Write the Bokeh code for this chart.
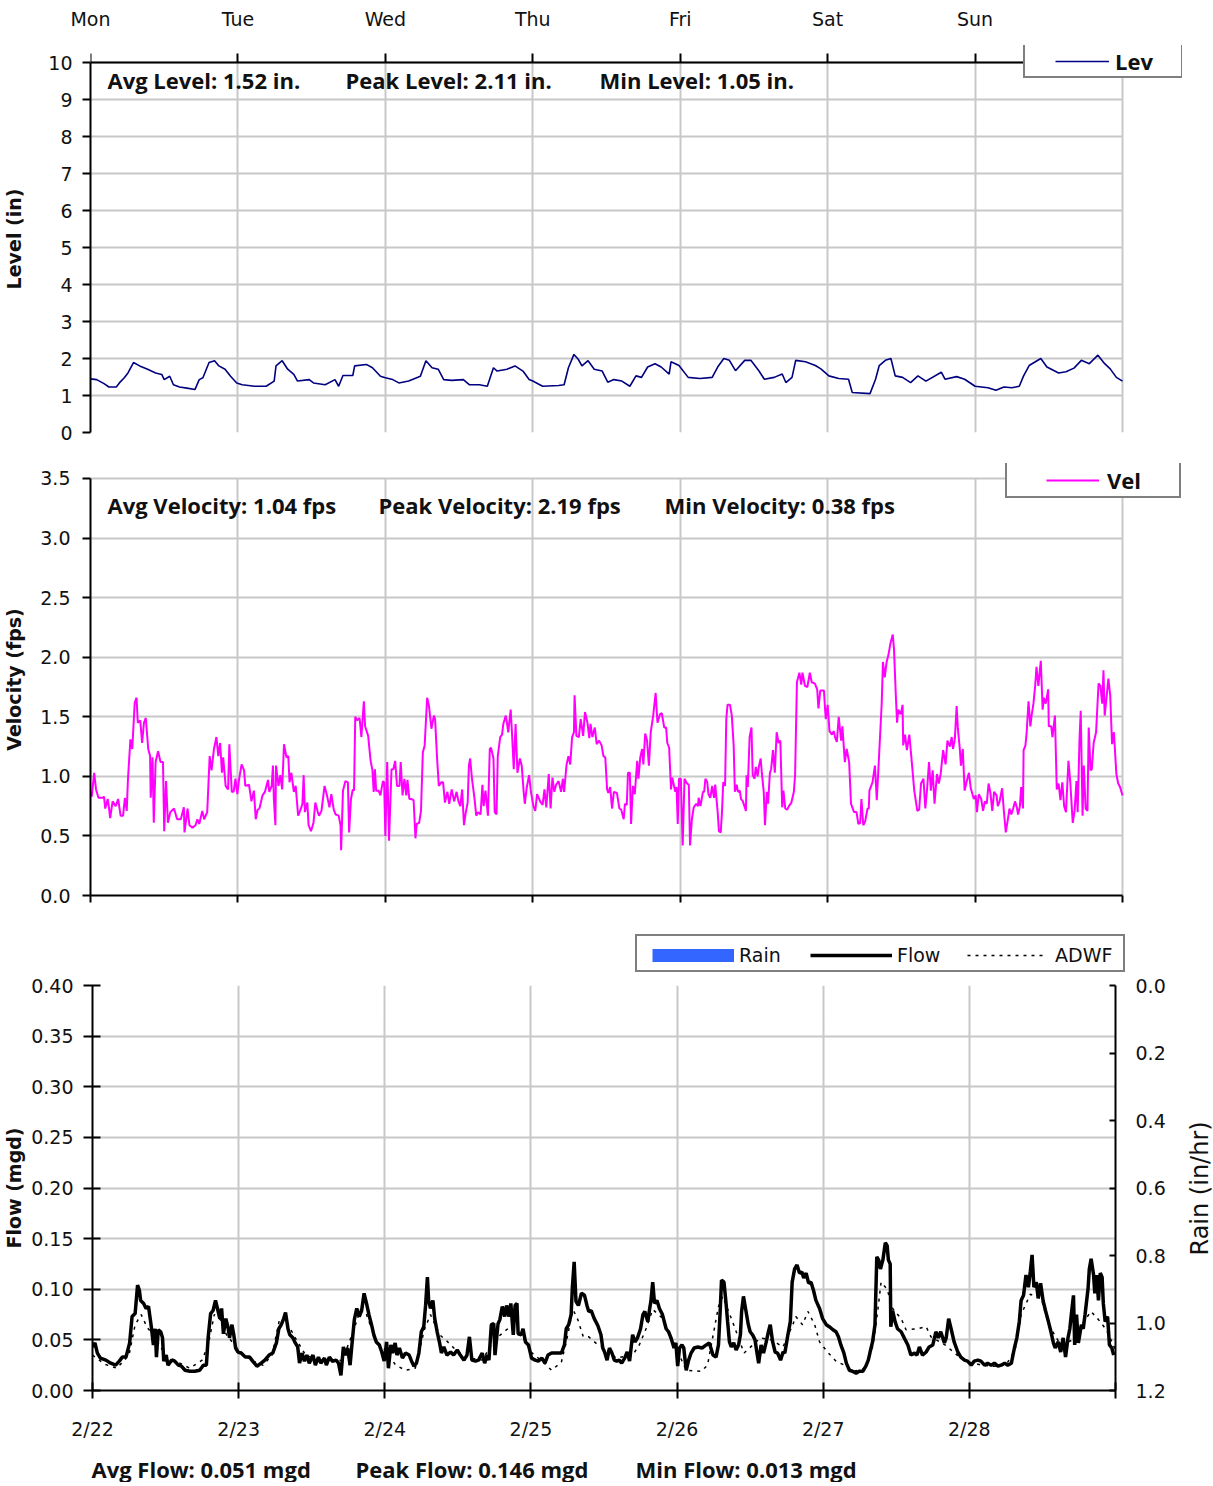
import math
from bokeh.plotting import figure
from bokeh.layouts import column, row
from bokeh.models import (Range1d, LinearAxis, FixedTicker, Label, Legend, LegendItem,
                          NumeralTickFormatter)
from bokeh.embed import file_html
from bokeh.resources import INLINE

TICK_FONT = "DejaVu Sans"
STAT_FONT = "Open Sans"
GRID = "#c8c8c8"
TXT = "#111111"
NAN = float("nan")

# ---------------- data ----------------
day_names = ["Mon", "Tue", "Wed", "Thu", "Fri", "Sat", "Sun", ""]
date_labels = ["2/22", "2/23", "2/24", "2/25", "2/26", "2/27", "2/28", ""]
day_hours = [0, 24, 48, 72, 96, 120, 144, 168]

level_ticks = [0, 1, 2, 3, 4, 5, 6, 7, 8, 9, 10]
vel_ticks = [0.0, 0.5, 1.0, 1.5, 2.0, 2.5, 3.0, 3.5]
flow_ticks = [0.0, 0.05, 0.10, 0.15, 0.20, 0.25, 0.30, 0.35, 0.40]
rain_ticks = [0.0, 0.2, 0.4, 0.6, 0.8, 1.0, 1.2]

lev_h = [0, 1, 2.2, 3, 4.2, 4.7, 5.5, 6.1, 7, 8, 9.3, 10.6, 11.6, 12, 12.9, 13.5, 14.5, 15.7, 17, 17.7,
         18.3, 19.3, 20.2, 20.9, 21.9, 22.8, 23.8, 24.7, 26.7, 28.6, 29.9, 30.2, 31.2, 32.1, 33.1, 33.7,
         35.6, 36.3, 38.2, 39.8, 40.4, 41.1, 42.7, 43, 44.9, 45.9, 47.2, 48, 49.2, 50.2, 51.8, 53.7, 54.6,
         55.6, 56.6, 57.5, 58.8, 60.7, 61.7, 63.3, 64.6, 65.6, 66.2, 67.8, 69.1, 70.4, 71.4, 72, 73.6,
         76.2, 77.1, 77.8, 78.7, 79.4, 80, 81, 82, 83.3, 84.2, 85.2, 86.5, 87.8, 88.8, 89.7, 90.7, 91.9,
         92.9, 94.2, 94.5, 95.8, 97.3, 99.2, 101.2, 102.1, 103.1, 104, 105, 106.5, 107.5, 108.8, 109.7,
         111.3, 112.6, 113.2, 114.2, 114.8, 116.4, 118, 118.9, 120.2, 121.8, 123.4, 124, 126.9, 127.8,
         128.4, 129.4, 130.3, 131, 132.2, 133.5, 134.7, 136, 138.5, 139.1, 141, 142.3, 144, 146.1, 147.4,
         148.7, 150, 151.2, 151.9, 152.8, 154.7, 155.7, 157.6, 158.8, 160.1, 161.3, 162.6, 164, 165.1,
         166, 167, 168]
lev_v = [1.45, 1.43, 1.32, 1.23, 1.23, 1.34, 1.48, 1.61, 1.89, 1.80, 1.71, 1.61, 1.57, 1.43, 1.52, 1.29,
         1.23, 1.20, 1.16, 1.43, 1.48, 1.89, 1.94, 1.80, 1.71, 1.52, 1.34, 1.29, 1.25, 1.25, 1.39, 1.80,
         1.94, 1.71, 1.57, 1.39, 1.43, 1.34, 1.29, 1.43, 1.25, 1.54, 1.54, 1.80, 1.84, 1.75, 1.52, 1.48,
         1.43, 1.34, 1.39, 1.52, 1.94, 1.75, 1.71, 1.43, 1.41, 1.43, 1.29, 1.29, 1.25, 1.75, 1.66, 1.71,
         1.80, 1.66, 1.43, 1.39, 1.25, 1.27, 1.29, 1.75, 2.11, 1.98, 1.80, 1.94, 1.71, 1.66, 1.36, 1.43,
         1.39, 1.25, 1.53, 1.49, 1.77, 1.86, 1.77, 1.58, 1.91, 1.81, 1.49, 1.46, 1.49, 1.77, 2.00, 1.95,
         1.67, 1.95, 1.95, 1.67, 1.44, 1.49, 1.58, 1.35, 1.49, 1.95, 1.91, 1.81, 1.72, 1.53, 1.46, 1.44,
         1.08, 1.05, 1.44, 1.81, 1.95, 2.00, 1.53, 1.49, 1.35, 1.53, 1.39, 1.63, 1.44, 1.51, 1.44, 1.25,
         1.21, 1.14, 1.23, 1.21, 1.25, 1.53, 1.81, 2.00, 1.77, 1.61, 1.64, 1.74, 1.95, 1.86, 2.09, 1.86,
         1.72, 1.49, 1.39]

vel_h = [0, 0.2, 0.6, 0.9, 1.3, 2.0, 2.2, 2.4, 2.8, 3.0, 3.2, 3.6, 4.1, 4.5, 4.9, 5.3, 5.6, 5.9, 6.1, 6.5,
         6.8, 7.2, 7.5, 7.7, 8.1, 8.4, 8.7, 9.0, 9.4, 9.7, 9.8, 10.1, 10.3, 10.6, 11.0, 11.4, 11.8, 12.0,
         12.3, 12.6, 13.0, 13.6, 14.1, 14.7, 15.2, 15.3, 15.8, 16.1, 16.6, 17.1, 17.4, 17.7, 18.2, 18.5,
         19.0, 19.4, 19.7, 20.1, 20.5, 20.8, 21.1, 21.4, 21.6, 22.0, 22.4, 22.6, 23.0, 23.3, 23.6, 23.9,
         24.2, 24.6, 25.0, 25.2, 25.8, 26.2, 26.6, 26.9, 27.2, 27.5, 28.0, 28.4, 28.9, 29.1, 29.5, 29.7,
         29.85, 30.1, 30.2, 30.6, 30.9, 31.2, 31.5, 31.9, 32.2, 32.4, 32.7, 33.1, 33.4, 33.8, 34.2, 34.5,
         34.7, 34.9, 35.3, 35.5, 35.9, 36.3, 36.6, 37.0, 37.2, 37.6, 38.1, 38.5, 38.9, 39.2, 39.6, 39.9,
         40.4, 40.7, 40.8, 41.1, 41.5, 41.9, 42.1, 42.4, 42.7, 42.9, 43.1, 43.4, 43.8, 44.1, 44.5, 44.7,
         45.2, 45.6, 45.9, 46.1, 46.3, 46.5, 46.9, 47.2, 47.6, 47.8, 48.0, 48.3, 48.6, 49.0, 49.3, 49.6,
         49.9, 50.3, 50.5, 50.8, 51.1, 51.4, 51.6, 51.9, 52.2, 52.6, 52.9, 53.1, 53.5, 53.8, 54.1, 54.4,
         54.8, 55.1, 55.5, 55.9, 56.1, 56.4, 56.7, 57.1, 57.4, 57.7, 58.1, 58.4, 58.8, 59.2, 59.6, 59.9,
         60.2, 60.5, 60.8, 61.1, 61.4, 61.6, 61.8, 62.1, 62.5, 62.8, 63.1, 63.5, 63.8, 64.0, 64.3, 64.7,
         65.0, 65.2, 65.6, 65.8, 66.1, 66.3, 66.7, 67.0, 67.2, 67.6, 67.8, 68.0, 68.4, 68.6, 68.9, 69.2,
         69.5, 69.9, 70.2, 70.5, 70.7, 71.0, 71.4, 71.7, 72.1, 72.4, 72.7, 73.2, 73.6, 73.9, 74.2, 74.6,
         74.9, 75.2, 75.5, 75.8, 76.2, 76.6, 76.9, 77.1, 77.5, 77.8, 78.1, 78.4, 78.7, 78.8, 79.1, 79.5,
         79.8, 80.2, 80.5, 80.9, 81.2, 81.4, 81.7, 82.1, 82.4, 82.8, 83.2, 83.5, 83.8, 84.1, 84.3, 84.6,
         84.9, 85.2, 85.7, 86.1, 86.4, 86.8, 87.0, 87.3, 87.5, 87.8, 88.0, 88.3, 88.6, 89.0, 89.2, 89.5,
         89.8, 90.0, 90.3, 90.6, 90.9, 91.2, 91.6, 92.0, 92.3, 92.7, 93.0, 93.4, 93.7, 93.9, 94.2, 94.5,
         94.7, 95.2, 95.4, 95.6, 95.8, 96.1, 96.4, 96.7, 97.1, 97.4, 97.6, 97.9, 98.2, 98.6, 98.9, 99.0,
         99.3, 99.7, 99.9, 100.1, 100.4, 100.6, 100.9, 101.2, 101.5, 101.7, 102.1, 102.3, 102.6, 102.8,
         103.0, 103.3, 103.5, 103.7, 104.1, 104.4, 104.7, 104.9, 105.2, 105.4, 105.7, 105.9, 106.2, 106.7,
         106.8, 107.0, 107.3, 107.6, 107.8, 108.1, 108.3, 108.6, 108.8, 109.1, 109.3, 109.6, 109.8, 110.1,
         110.3, 110.6, 110.8, 111.1, 111.4, 111.7, 112.0, 112.3, 112.6, 112.8, 113.1, 113.4, 113.7, 114.1,
         114.5, 114.7, 115.0, 115.4, 115.7, 115.9, 116.3, 116.7, 117.1, 117.4, 117.9, 118.3, 118.5, 118.8,
         119.4, 119.6, 119.7, 120.0, 120.3, 120.7, 121.0, 121.2, 121.5, 121.8, 122.2, 122.4, 122.8, 123.1,
         123.5, 123.8, 124.3, 124.7, 125.0, 125.3, 125.5, 125.8, 126.1, 126.5, 126.7, 126.8, 127.3, 127.7,
         128.0, 128.4, 128.8, 129.0, 129.3, 129.6, 129.9, 130.2, 130.6, 130.8, 131.1, 131.3, 131.5, 131.9,
         132.2, 132.3, 132.6, 132.9, 133.3, 133.7, 134.1, 134.6, 134.9, 135.2, 135.6, 135.9, 136.2, 136.5,
         136.8, 137.1, 137.4, 137.8, 138.1, 138.4, 138.8, 139.2, 139.5, 139.9, 140.2, 140.4, 140.7, 141.0,
         141.2, 141.5, 141.7, 142.0, 142.3, 142.6, 143.0, 143.3, 143.8, 144.1, 144.3, 144.6, 145.0, 145.3,
         145.6, 145.9, 146.2, 146.5, 146.8, 147.1, 147.5, 147.7, 148.0, 148.4, 148.7, 149.0, 149.4, 149.6,
         149.9, 150.2, 150.5, 150.8, 151.0, 151.3, 151.5, 151.8, 151.9, 152.2, 152.4, 152.7, 153.0, 153.2,
         153.5, 153.8, 154.0, 154.3, 154.7, 155.0, 155.2, 155.5, 155.9, 156.0, 156.4, 156.6, 157.0, 157.3,
         157.6, 157.9, 158.2, 158.5, 158.8, 159.2, 159.5, 159.9, 160.2, 160.5, 160.7, 161.0, 161.2, 161.5,
         161.7, 162.0, 162.3, 162.5, 162.8, 163.0, 163.3, 163.7, 164.1, 164.4, 164.7, 164.9, 165.1, 165.4,
         165.7, 166.0, 166.3, 166.6, 167.0, 167.3, 167.6, 168.0]
vel_v = [0.87, 0.83, 1.03, 0.89, 0.82, 0.82, 0.83, 0.73, 0.81, 0.74, 0.65, 0.79, 0.75, 0.81, 0.67, 0.67,
         0.82, 0.71, 0.98, 1.31, 1.23, 1.62, 1.66, 1.45, 1.47, 1.28, 1.45, 1.49, 1.23, 1.17, 0.82, 1.16,
         0.61, 1.12, 1.21, 1.12, 1.12, 0.54, 0.96, 0.61, 0.70, 0.73, 0.64, 0.64, 0.74, 0.53, 0.73, 0.59,
         0.57, 0.59, 0.64, 0.60, 0.71, 0.64, 0.70, 1.17, 1.05, 1.23, 1.33, 1.17, 1.28, 1.03, 1.16, 0.92,
         0.89, 1.27, 0.87, 0.87, 0.98, 0.85, 0.98, 1.10, 1.05, 0.92, 0.93, 0.79, 0.88, 0.64, 0.72, 0.73,
         0.84, 0.87, 0.97, 0.87, 0.92, 1.09, 0.81, 0.59, 1.09, 0.92, 1.01, 0.89, 1.27, 1.16, 1.17, 0.95,
         1.03, 0.87, 0.92, 0.67, 0.72, 0.77, 1.01, 0.70, 0.78, 0.59, 0.54, 0.61, 0.78, 0.70, 0.67, 0.71,
         0.92, 0.84, 0.74, 0.85, 0.72, 0.68, 0.67, 0.59, 0.38, 0.88, 0.96, 0.95, 0.53, 0.81, 0.89, 0.88,
         1.50, 1.47, 1.49, 1.33, 1.63, 1.42, 1.34, 1.13, 1.05, 0.87, 1.06, 0.88, 0.88, 0.84, 0.96, 0.95,
         0.50, 1.12, 0.46, 1.06, 1.06, 1.13, 0.92, 0.92, 1.12, 0.84, 0.98, 0.84, 0.97, 0.81, 0.81, 0.80,
         0.48, 0.60, 0.61, 0.71, 1.20, 1.26, 1.66, 1.59, 1.40, 1.51, 1.48, 1.17, 0.92, 0.95, 0.95, 0.78,
         0.87, 0.77, 0.89, 0.79, 0.87, 0.79, 0.75, 0.89, 0.59, 0.70, 0.78, 1.09, 1.15, 0.98, 0.82, 0.67,
         0.70, 0.68, 0.93, 0.75, 0.88, 0.67, 1.23, 1.24, 1.15, 0.70, 0.68, 1.17, 1.33, 1.35, 1.44, 1.51,
         1.45, 1.37, 1.56, 1.38, 1.06, 1.44, 1.03, 1.15, 1.09, 0.88, 0.77, 0.90, 1.01, 0.87, 0.75, 0.71,
         0.85, 0.79, 0.76, 0.89, 0.74, 1.02, 0.73, 0.99, 0.87, 0.93, 0.96, 0.87, 0.98, 0.87, 1.10, 1.17,
         1.10, 1.33, 1.37, 1.68, 1.34, 1.33, 1.48, 1.34, 1.54, 1.45, 1.32, 1.44, 1.33, 1.41, 1.27, 1.30,
         1.26, 1.17, 1.16, 0.89, 0.86, 0.91, 0.73, 0.87, 0.86, 0.73, 0.72, 0.64, 0.77, 0.76, 1.03, 1.03,
         0.60, 0.92, 0.85, 1.13, 0.98, 1.16, 1.23, 1.10, 1.36, 1.30, 1.09, 1.37, 1.51, 1.70, 1.45, 1.52,
         1.53, 1.41, 1.41, 1.28, 1.24, 0.89, 0.99, 0.87, 0.91, 0.60, 0.98, 0.98, 0.42, 0.98, 0.94, 0.93,
         0.42, 0.64, 0.74, 0.77, 0.75, 0.82, 0.75, 0.87, 0.87, 0.98, 0.95, 0.85, 0.82, 0.92, 0.82, 0.93,
         0.70, 0.54, 0.53, 0.70, 0.95, 0.92, 1.48, 1.60, 1.60, 1.51, 1.26, 0.87, 0.93, 0.87, 0.88, 0.81,
         0.79, 0.71, 1.01, 0.91, 1.33, 1.41, 1.01, 0.98, 1.08, 1.00, 1.08, 1.15, 1.02, 0.87, 0.59, 0.87,
         0.77, 1.03, 1.06, 1.22, 1.03, 1.37, 1.28, 1.30, 0.74, 0.88, 0.73, 0.72, 0.75, 0.78, 0.87, 1.01,
         1.79, 1.87, 1.77, 1.87, 1.76, 1.75, 1.87, 1.79, 1.78, 1.73, 1.57, 1.72, 1.72, 1.55, 1.48, 1.60,
         1.38, 1.35, 1.38, 1.33, 1.29, 1.50, 1.30, 1.42, 1.12, 1.23, 1.12, 0.77, 0.70, 0.70, 0.60, 0.61,
         0.81, 0.59, 0.62, 0.73, 0.73, 0.88, 0.95, 1.09, 0.80, 1.20, 1.61, 1.96, 1.83, 1.96, 2.02, 2.11,
         2.19, 2.07, 1.68, 1.45, 1.56, 1.52, 1.60, 1.26, 1.35, 1.22, 1.35, 1.12, 0.88, 0.71, 0.72, 0.94,
         0.98, 0.73, 0.90, 1.12, 0.88, 1.05, 0.77, 1.02, 0.94, 1.02, 1.22, 1.10, 1.30, 1.25, 1.33, 1.23,
         1.31, 1.59, 1.40, 1.24, 1.09, 1.23, 0.88, 0.95, 1.03, 0.90, 0.81, 0.84, 0.70, 0.85, 0.81, 0.71,
         0.79, 0.77, 0.94, 0.86, 0.71, 0.87, 0.84, 0.75, 0.79, 0.90, 0.70, 0.53, 0.66, 0.73, 0.68, 0.73,
         0.79, 0.74, 0.68, 0.75, 0.91, 0.73, 1.22, 1.26, 1.37, 1.63, 1.42, 1.51, 1.61, 1.77, 1.92, 1.76,
         1.97, 1.56, 1.66, 1.61, 1.73, 1.42, 1.42, 1.33, 1.51, 0.89, 0.94, 0.80, 0.95, 0.75, 0.70, 1.13,
         0.95, 0.61, 0.71, 0.96, 0.70, 1.31, 1.55, 0.67, 1.09, 0.73, 0.71, 1.41, 1.05, 1.06, 1.28, 1.37,
         1.78, 1.76, 1.61, 1.89, 1.51, 1.66, 1.82, 1.68, 1.27, 1.37, 1.02, 0.94, 0.91, 0.84]

flow_h = [0.0, 0.4, 0.8, 1.3, 2.2, 3.0, 3.8, 4.4, 4.9, 5.5, 6.1, 6.5, 7.0, 7.4, 7.7, 7.9, 8.4, 8.8, 9.2,
          9.5, 9.7, 10.0, 10.3, 10.5, 10.8, 11.2, 11.5, 11.7, 12.1, 12.4, 13.0, 13.5, 14.1, 14.6, 15.2,
          16.0, 16.8, 17.6, 18.2, 18.7, 19.0, 19.4, 19.8, 20.2, 20.6, 20.9, 21.2, 21.5, 21.9, 22.3, 22.5,
          22.9, 23.2, 23.5, 23.9, 24.4, 25.1, 25.8, 26.3, 27.0, 27.7, 28.3, 29.0, 29.6, 30.2, 30.6, 31.0,
          31.4, 31.7, 32.1, 32.4, 32.9, 33.3, 33.7, 34.0, 34.4, 34.8, 35.2, 35.6, 36.2, 36.6, 37.1, 37.5,
          38.1, 38.4, 38.9, 39.4, 40.0, 40.4, 40.8, 41.2, 41.5, 41.9, 42.3, 42.6, 43.0, 43.4, 43.8, 44.2,
          44.6, 45.0, 45.4, 45.9, 46.2, 46.6, 47.1, 47.5, 47.9, 48.3, 48.6, 49.0, 49.3, 49.7, 50.0, 50.4,
          50.9, 51.4, 52.0, 52.4, 52.8, 53.2, 53.6, 54.0, 54.4, 54.7, 55.0, 55.2, 55.5, 55.9, 56.2, 56.6,
          57.0, 57.3, 57.7, 58.2, 58.8, 59.3, 59.9, 60.4, 61.0, 61.5, 61.9, 62.3, 62.9, 63.4, 64.0, 64.4,
          64.8, 65.1, 65.5, 65.9, 66.1, 66.6, 66.9, 67.3, 67.7, 68.0, 68.4, 68.7, 69.1, 69.4, 69.7, 69.9,
          70.4, 70.7, 71.1, 71.6, 72.1, 72.7, 73.2, 73.8, 74.3, 74.8, 75.4, 75.9, 76.5, 77.0, 77.5, 77.8,
          78.2, 78.6, 78.8, 79.1, 79.4, 79.8, 80.3, 80.8, 81.2, 81.5, 81.9, 82.4, 83.0, 83.5, 83.8, 84.1,
          84.5, 84.9, 85.3, 85.7, 86.1, 86.5, 86.9, 87.4, 87.8, 88.2, 88.7, 89.1, 89.5, 90.0, 90.4, 90.7,
          91.2, 91.5, 91.7, 92.0, 92.3, 92.7, 93.1, 93.6, 94.2, 94.6, 95.0, 95.5, 95.8, 96.1, 96.4, 96.8,
          97.1, 97.5, 97.9, 98.3, 98.8, 99.4, 100.1, 100.8, 101.3, 101.9, 102.4, 102.8, 103.1, 103.3,
          103.7, 104.0, 104.3, 104.6, 104.9, 105.3, 105.7, 106.1, 106.4, 106.6, 106.9, 107.3, 107.7,
          108.0, 108.4, 108.8, 109.1, 109.4, 109.8, 110.2, 110.6, 111.0, 111.3, 111.7, 112.1, 112.5,
          113.0, 113.4, 113.7, 114.2, 114.6, 114.9, 115.3, 115.7, 116.1, 116.5, 116.8, 117.2, 117.6,
          118.0, 118.4, 118.8, 119.4, 119.9, 120.5, 121.0, 121.6, 122.1, 122.5, 122.9, 123.4, 123.8,
          124.3, 124.8, 125.4, 125.9, 126.5, 127.0, 127.4, 127.7, 128.1, 128.5, 128.8, 129.1, 129.4,
          129.8, 130.2, 130.5, 130.7, 131.0, 131.1, 131.4, 131.8, 132.2, 132.8, 133.3, 133.9, 134.4,
          135.0, 135.4, 135.8, 136.3, 136.9, 137.4, 138.0, 138.5, 138.9, 139.3, 139.9, 140.2, 140.6,
          141.0, 141.5, 142.1, 142.6, 143.2, 143.7, 144.3, 144.8, 145.4, 145.9, 146.5, 147.0, 147.6,
          148.1, 148.7, 149.2, 149.8, 150.3, 150.9, 151.4, 151.8, 152.2, 152.5, 152.9, 153.3, 153.7,
          154.0, 154.3, 154.6, 155.0, 155.3, 155.7, 156.1, 156.5, 156.9, 157.4, 157.8, 158.1, 158.6,
          159.0, 159.4, 159.8, 160.2, 160.5, 160.8, 161.1, 161.3, 161.6, 161.9, 162.4, 162.7, 163.0,
          163.5, 163.7, 164.0, 164.4, 164.6, 164.9, 165.2, 165.5, 165.8, 166.0, 166.3, 166.7, 167.0,
          167.4, 167.7]
flow_v = [0.043, 0.047, 0.037, 0.032, 0.030, 0.027, 0.025, 0.029, 0.033, 0.033, 0.047, 0.073, 0.076,
          0.104, 0.099, 0.089, 0.086, 0.081, 0.083, 0.070, 0.061, 0.045, 0.061, 0.033, 0.060, 0.058,
          0.052, 0.029, 0.035, 0.025, 0.030, 0.029, 0.025, 0.024, 0.020, 0.019, 0.019, 0.020, 0.025,
          0.025, 0.053, 0.076, 0.079, 0.089, 0.079, 0.071, 0.081, 0.056, 0.071, 0.061, 0.052, 0.065,
          0.055, 0.042, 0.038, 0.037, 0.033, 0.033, 0.029, 0.024, 0.027, 0.030, 0.035, 0.037, 0.047,
          0.061, 0.065, 0.071, 0.077, 0.061, 0.055, 0.052, 0.047, 0.043, 0.027, 0.037, 0.029, 0.035,
          0.027, 0.035, 0.025, 0.033, 0.027, 0.032, 0.025, 0.033, 0.029, 0.030, 0.027, 0.015, 0.043,
          0.035, 0.042, 0.025, 0.045, 0.070, 0.081, 0.073, 0.079, 0.096, 0.086, 0.075, 0.063, 0.055,
          0.048, 0.045, 0.038, 0.029, 0.048, 0.022, 0.045, 0.037, 0.047, 0.035, 0.042, 0.032, 0.037,
          0.035, 0.029, 0.024, 0.027, 0.037, 0.058, 0.063, 0.084, 0.112, 0.089, 0.081, 0.089, 0.071,
          0.058, 0.047, 0.037, 0.043, 0.035, 0.038, 0.035, 0.040, 0.035, 0.030, 0.035, 0.053, 0.030,
          0.029, 0.030, 0.037, 0.027, 0.035, 0.030, 0.065, 0.066, 0.035, 0.066, 0.070, 0.083, 0.073,
          0.084, 0.073, 0.086, 0.055, 0.084, 0.086, 0.056, 0.055, 0.061, 0.048, 0.045, 0.032, 0.030,
          0.029, 0.032, 0.027, 0.035, 0.037, 0.037, 0.037, 0.037, 0.045, 0.061, 0.065, 0.075, 0.101,
          0.127, 0.088, 0.084, 0.096, 0.094, 0.084, 0.078, 0.079, 0.071, 0.064, 0.055, 0.042, 0.038,
          0.030, 0.042, 0.037, 0.030, 0.029, 0.030, 0.027, 0.032, 0.038, 0.029, 0.055, 0.048, 0.052,
          0.061, 0.075, 0.078, 0.068, 0.081, 0.088, 0.107, 0.086, 0.089, 0.081, 0.075, 0.061, 0.058,
          0.052, 0.042, 0.047, 0.024, 0.042, 0.045, 0.042, 0.020, 0.030, 0.037, 0.042, 0.043, 0.042,
          0.045, 0.047, 0.035, 0.033, 0.045, 0.081, 0.109, 0.107, 0.089, 0.068, 0.048, 0.043, 0.047,
          0.040, 0.045, 0.055, 0.078, 0.093, 0.079, 0.065, 0.058, 0.055, 0.050, 0.038, 0.027, 0.045,
          0.037, 0.047, 0.058, 0.065, 0.048, 0.038, 0.037, 0.030, 0.038, 0.037, 0.055, 0.068, 0.107,
          0.120, 0.124, 0.116, 0.117, 0.111, 0.116, 0.106, 0.107, 0.099, 0.089, 0.081, 0.071, 0.065,
          0.063, 0.060, 0.058, 0.053, 0.045, 0.037, 0.027, 0.020, 0.019, 0.017, 0.019, 0.019, 0.024,
          0.030, 0.038, 0.048, 0.065, 0.132, 0.129, 0.120, 0.129, 0.146, 0.143, 0.129, 0.125, 0.063,
          0.079, 0.068, 0.061, 0.058, 0.052, 0.045, 0.035, 0.037, 0.035, 0.043, 0.035, 0.038, 0.043,
          0.045, 0.058, 0.052, 0.058, 0.047, 0.052, 0.071, 0.061, 0.048, 0.038, 0.033, 0.030, 0.029,
          0.025, 0.029, 0.030, 0.029, 0.025, 0.027, 0.025, 0.027, 0.024, 0.025, 0.027, 0.025, 0.027,
          0.042, 0.052, 0.068, 0.089, 0.094, 0.114, 0.102, 0.117, 0.134, 0.102, 0.107, 0.091, 0.106,
          0.089, 0.079, 0.070, 0.058, 0.047, 0.042, 0.048, 0.038, 0.052, 0.033, 0.052, 0.061, 0.078,
          0.094, 0.045, 0.075, 0.047, 0.065, 0.061, 0.075, 0.101, 0.120, 0.130, 0.114, 0.096, 0.114,
          0.089, 0.116, 0.112, 0.086, 0.068, 0.073, 0.045, 0.042, 0.035]

adwf_h = [0, 2, 4, 6, 7, 8, 9, 10, 12, 14, 16, 18, 19, 20, 21, 22, 24, 26, 28, 29.5, 30.7, 31.5, 33.3,
          35, 37, 39, 41, 42.7, 44, 45, 46.5, 48, 49.8, 51.4, 53, 54.5, 55.5, 57, 58, 60, 62, 64, 66,
          68.6, 70.5, 72, 74, 75.4, 77, 77.8, 78.9, 79.7, 80.6, 81.5, 83, 84, 86, 88.7, 89.8, 90.9, 92,
          93.5, 95, 96, 97.5, 100, 101, 102.8, 103.5, 105.3, 107, 109.7, 111.5, 113.4, 115, 115.5, 116.6,
          117.5, 118.6, 119.4, 120.7, 122.1, 123.5, 125, 127, 128.2, 129, 129.5, 130.5, 131.4, 132.8,
          133.6, 135.5, 136.9, 137.7, 140, 142, 144, 146, 148, 150, 151.5, 152.5, 154, 155.8, 157, 159,
          161, 163, 164, 165.2, 166.5, 168]
adwf_v = [0.035, 0.026, 0.022, 0.035, 0.065, 0.075, 0.062, 0.055, 0.035, 0.028, 0.022, 0.030, 0.045,
          0.075, 0.070, 0.055, 0.040, 0.030, 0.025, 0.035, 0.070, 0.072, 0.052, 0.035, 0.030, 0.028,
          0.030, 0.056, 0.080, 0.075, 0.050, 0.040, 0.025, 0.020, 0.022, 0.060, 0.075, 0.055, 0.050,
          0.038, 0.032, 0.030, 0.050, 0.063, 0.055, 0.038, 0.028, 0.020, 0.028, 0.048, 0.080, 0.070,
          0.053, 0.053, 0.045, 0.043, 0.032, 0.035, 0.045, 0.061, 0.080, 0.072, 0.050, 0.040, 0.020,
          0.019, 0.025, 0.083, 0.093, 0.065, 0.037, 0.052, 0.050, 0.043, 0.065, 0.073, 0.065, 0.078,
          0.065, 0.048, 0.038, 0.029, 0.025, 0.019, 0.022, 0.045, 0.081, 0.107, 0.100, 0.081, 0.071,
          0.060, 0.061, 0.063, 0.053, 0.045, 0.035, 0.028, 0.025, 0.024, 0.025, 0.040, 0.075, 0.095,
          0.091, 0.065, 0.045, 0.050, 0.070, 0.078, 0.070, 0.060, 0.040]

rain_h = [12, 36, 60, 84, 108, 132, 156]
rain_v = [0.0, 0.0, 0.0, 0.0, 0.0, 0.0, 0.0]

X_END = 168 * 1092 / 1032          # frame widened past the last day for the legends


# ---------------- helpers ----------------
def make_fig(fw, fh, bl, br, bt, bb, xr, yr, xloc, yloc="left"):
    p = figure(frame_width=fw, frame_height=fh, min_border_left=bl, min_border_right=br,
               min_border_top=bt, min_border_bottom=bb, x_range=xr, y_range=yr,
               x_axis_location=xloc, y_axis_location=yloc, output_backend="svg",
               toolbar_location=None)
    p.outline_line_color = None
    p.background_fill_color = "white"
    p.border_fill_color = "white"
    return p


def style_grid(p, xcross=None, ycross=None):
    p.xgrid.ticker = FixedTicker(ticks=day_hours)
    for g in (p.xgrid, p.ygrid):
        g.grid_line_color = GRID
        g.grid_line_width = 2
    if xcross is not None:
        p.xgrid.cross_bounds = xcross
    if ycross is not None:
        p.ygrid.cross_bounds = ycross


def style_axis(ax, tin, tout, standoff, size="19px"):
    ax.axis_line_color = "black"
    ax.axis_line_width = 2
    ax.major_tick_line_color = "black"
    ax.major_tick_line_width = 2
    ax.major_tick_in = tin
    ax.major_tick_out = tout
    ax.minor_tick_line_color = None
    ax.major_label_standoff = standoff
    ax.major_label_text_font = TICK_FONT
    ax.major_label_text_font_size = size
    ax.major_label_text_color = TXT


def axis_title(ax, text, standoff, size="19px", bold=True):
    ax.axis_label = text
    ax.axis_label_text_font = TICK_FONT
    ax.axis_label_text_font_size = size
    ax.axis_label_text_font_style = "bold" if bold else "normal"
    ax.axis_label_text_color = TXT
    ax.axis_label_standoff = standoff


def stat(p, x, y, text, size="22px"):
    p.add_layout(Label(x=x, y=y, x_units="screen", y_units="screen", text=text,
                       text_font=STAT_FONT, text_font_style="bold", text_font_size=size,
                       text_color=TXT, text_baseline="middle", text_align="left"))


def legend_box(p, loc, w, h):
    dummy = p.line(x=[NAN], y=[NAN], line_alpha=0)
    lg = Legend(items=[LegendItem(label=" ", renderers=[dummy])], location=loc, padding=0, margin=0,
                spacing=0, glyph_width=w, glyph_height=h, label_standoff=0, label_width=0,
                label_height=0, label_text_font_size="1px", border_line_color="black",
                border_line_width=2, background_fill_color="white", background_fill_alpha=1)
    p.add_layout(lg)


def legend_item(p, loc, label, rend, gw, standoff, size, bold, font):
    lg = Legend(items=[LegendItem(label=label, renderers=[rend])], location=loc, padding=0, margin=0,
                spacing=0, glyph_width=gw, glyph_height=26, label_standoff=standoff, label_height=26,
                label_text_font=font, label_text_font_size=size,
                label_text_font_style="bold" if bold else "normal", label_text_color=TXT,
                border_line_color=None, background_fill_alpha=0)
    p.add_layout(lg)


def strip_fig(h):
    p = figure(frame_width=1092, frame_height=h, min_border_left=85, min_border_right=20,
               min_border_top=0, min_border_bottom=0, x_range=Range1d(0, 1), y_range=Range1d(0, 1),
               x_axis_location=None, y_axis_location=None, output_backend="svg",
               toolbar_location=None)
    p.outline_line_color = None
    p.grid.visible = False
    return p


hidden = {h: "" for h in day_hours}

# ---------------- level ----------------
p1 = make_fig(1092, 387, 85, 20, 45, 18, Range1d(0, X_END), Range1d(0, 10 + 17 / 37), "above")
style_grid(p1, (0, 10), (0, 168))
lev_r = p1.line(lev_h, lev_v, line_color="#000080", line_width=1.6)
day_axis = p1.xaxis[0]
day_axis.ticker = FixedTicker(ticks=day_hours)
day_axis.major_label_overrides = {h: d for h, d in zip(day_hours, day_names)}
style_axis(day_axis, 0, 0, 16)
day_axis.axis_line_color = None
day_axis.major_tick_line_color = None
top_rule = LinearAxis(fixed_location=10, bounds=(0, 168), ticker=FixedTicker(ticks=day_hours),
                      major_label_overrides=hidden)
style_axis(top_rule, 9, 0, 0, "1px")
p1.add_layout(top_rule, "below")
ya = p1.yaxis[0]
ya.ticker = FixedTicker(ticks=level_ticks)
ya.bounds = (0, 10)
style_axis(ya, 0, 8, 10)
axis_title(ya, "Level (in)", 20)
stat(p1, 17, 353, "Avg Level: 1.52 in.")
stat(p1, 255, 353, "Peak Level: 2.11 in.")
stat(p1, 509, 353, "Min Level: 1.05 in.")
legend_box(p1, (933, 354), 156, 32)
legend_item(p1, (965, 356), "Lev", lev_r, 54, 6, "22px", True, STAT_FONT)

# ---------------- velocity ----------------
p2 = make_fig(1092, 432, 85, 20, 13, 25, Range1d(0, X_END), Range1d(0, 3.5 + 15 / 119.143), "below")
style_grid(p2, (0, 3.5), (0, 168))
vel_r = p2.line(vel_h, vel_v, line_color="#ff00ff", line_width=2)
xb = p2.xaxis[0]
xb.ticker = FixedTicker(ticks=day_hours)
xb.major_label_overrides = hidden
xb.bounds = (0, 168)
style_axis(xb, 0, 7, 0, "1px")
yb = p2.yaxis[0]
yb.ticker = FixedTicker(ticks=vel_ticks)
yb.formatter = NumeralTickFormatter(format="0.0")
yb.bounds = (0, 3.5)
style_axis(yb, 0, 8, 12)
axis_title(yb, "Velocity (fps)", 12)
stat(p2, 17, 391, "Avg Velocity: 1.04 fps")
stat(p2, 288, 391, "Peak Velocity: 2.19 fps")
stat(p2, 574, 391, "Min Velocity: 0.38 fps")
legend_box(p2, (915, 397), 172, 34)
legend_item(p2, (956, 400), "Vel", vel_r, 53, 8, "22px", True, STAT_FONT)

# ---------------- flow legend strip ----------------
pL = strip_fig(53)
rain_dummy = pL.line(x=[NAN], y=[NAN], line_color="#3366ff", line_width=13)
flow_dummy = pL.line(x=[NAN], y=[NAN], line_color="black", line_width=3.5)
adwf_dummy = pL.line(x=[NAN], y=[NAN], line_color="black", line_width=1.5, line_dash="3 5")
legend_box(pL, (545, 1), 486, 34)
legend_item(pL, (562, 5), "Rain", rain_dummy, 82, 5, "19px", False, TICK_FONT)
legend_item(pL, (720, 5), "Flow", flow_dummy, 82, 5, "19px", False, TICK_FONT)
legend_item(pL, (877, 5), "ADWF", adwf_dummy, 80, 8, "19px", False, TICK_FONT)

# ---------------- flow ----------------
p3 = make_fig(1023, 405, 85, 50, 12, 52, Range1d(0, 168), Range1d(0, 0.40), "below")
style_grid(p3)
p3.extra_y_ranges = {"rain": Range1d(start=1.2, end=0)}
p3.vbar(x=rain_h, top=rain_v, bottom=0, width=1, y_range_name="rain", fill_color="#3366ff",
        line_color=None)
p3.line(adwf_h, adwf_v, line_color="black", line_width=1.5, line_dash="3 5")
p3.line(flow_h, flow_v, line_color="black", line_width=3.5)
xc = p3.xaxis[0]
xc.ticker = FixedTicker(ticks=day_hours)
xc.major_label_overrides = {h: d for h, d in zip(day_hours, date_labels)}
style_axis(xc, 8, 8, 19)
yc = p3.yaxis[0]
yc.ticker = FixedTicker(ticks=flow_ticks)
yc.formatter = NumeralTickFormatter(format="0.00")
style_axis(yc, 8, 9, 10)
axis_title(yc, "Flow (mgd)", 3)
rain_axis = LinearAxis(y_range_name="rain", ticker=FixedTicker(ticks=rain_ticks),
                       formatter=NumeralTickFormatter(format="0.0"))
style_axis(rain_axis, 6, 0, 20)
p3.add_layout(rain_axis, "right")

# right-hand title of the rain axis, read bottom-to-top, in its own narrow panel
pR = figure(width=47, height=469, x_range=Range1d(0, 47), y_range=Range1d(0, 469),
            x_axis_location=None, y_axis_location=None, output_backend="svg",
            toolbar_location=None, min_border=0)
pR.min_border_left = pR.min_border_right = pR.min_border_top = pR.min_border_bottom = 0
pR.outline_line_color = None
pR.grid.visible = False
pR.add_layout(Label(x=31, y=234, text="Rain (in/hr)", angle=math.pi / 2, text_font=TICK_FONT,
                    text_font_size="24px", text_color=TXT, text_align="center",
                    text_baseline="middle"))

# ---------------- flow stats strip ----------------
pS = strip_fig(40)
stat(pS, 1, 14, "Avg Flow: 0.051 mgd")
stat(pS, 265, 14, "Peak Flow: 0.146 mgd")
stat(pS, 545, 14, "Min Flow: 0.013 mgd")

layout = column(p1, p2, pL, row(p3, pR), pS)
open("out.html", "w").write(file_html(layout, INLINE))
